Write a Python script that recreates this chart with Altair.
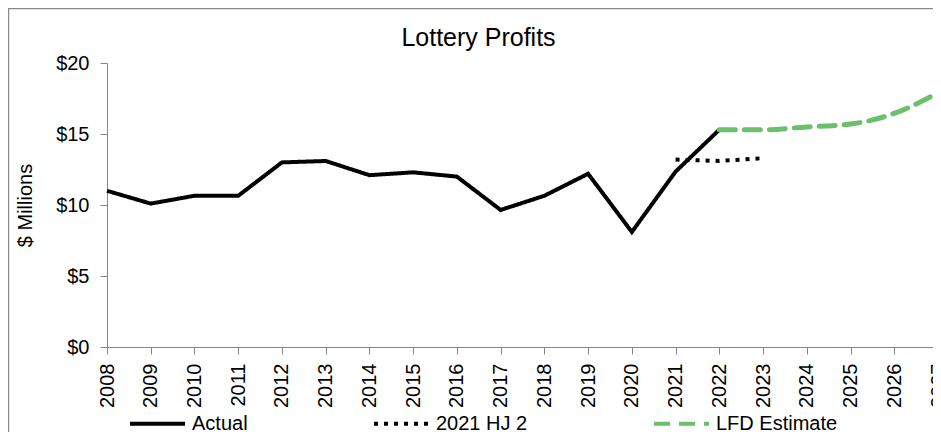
import altair as alt
import pandas as pd

all_years = list(range(2008, 2028))

actual_years = list(range(2008, 2023))
actual_values = [11.0, 10.1, 10.65, 10.65, 13.0, 13.1, 12.1, 12.3, 12.0, 9.65, 10.65, 12.2, 8.1, 12.35, 15.3]

hj_years = [2021, 2022, 2023]
hj_values = [13.2, 13.1, 13.3]

lfd_years = [2022, 2023, 2024, 2025, 2026, 2027]
lfd_values = [15.3, 15.3, 15.5, 15.7, 16.45, 17.9]

series_names = ["Actual", "2021 HJ 2", "LFD Estimate"]
series_colors = ["#000000", "#000000", "#6CBF6C"]
series_dash = [[1, 0], [4, 6], [16, 9]]

df_actual = pd.DataFrame({"year": actual_years, "value": actual_values, "series": "Actual"})
df_hj = pd.DataFrame({"year": hj_years, "value": hj_values, "series": "2021 HJ 2"})
df_lfd = pd.DataFrame({"year": lfd_years, "value": lfd_values, "series": "LFD Estimate"})

FONT = "Liberation Sans"
AXIS_GRAY = "#868686"

legend = alt.Legend(
    title=None,
    orient="none",
    legendX=21,
    legendY=331,
    direction="horizontal",
    symbolType="stroke",
    symbolSize=3025,
    symbolStrokeWidth=4,
    labelFontSize=20,
    labelFont=FONT,
    labelColor="#000000",
    columnPadding=118,
    labelOffset=5,
)

x_enc = alt.X(
    "year:O",
    scale=alt.Scale(type="point", padding=0, domain=all_years),
    axis=alt.Axis(
        title=None,
        labelAngle=270,
        labelFontSize=20,
        labelFont=FONT,
        labelColor="#000000",
        tickSize=7,
        labelPadding=9,
        domainColor=AXIS_GRAY,
        tickColor=AXIS_GRAY,
        grid=False,
    ),
)
y_enc = alt.Y(
    "value:Q",
    scale=alt.Scale(domain=[0, 20], nice=False),
    axis=alt.Axis(
        values=[0, 5, 10, 15, 20],
        labelExpr="'$' + datum.value",
        title="$ Millions",
        titleFontSize=20,
        titleFont=FONT,
        titleFontWeight="normal",
        titleColor="#000000",
        titlePadding=20,
        labelFontSize=20,
        labelFont=FONT,
        labelColor="#000000",
        tickSize=7,
        labelPadding=11,
        domainColor=AXIS_GRAY,
        tickColor=AXIS_GRAY,
        grid=False,
    ),
)
color_enc = alt.Color("series:N", scale=alt.Scale(domain=series_names, range=series_colors), legend=legend)
dash_enc = alt.StrokeDash("series:N", scale=alt.Scale(domain=series_names, range=series_dash), legend=legend)

line_actual = alt.Chart(df_actual).mark_line(strokeWidth=4, strokeJoin="miter").encode(
    x=x_enc, y=y_enc, color=color_enc, strokeDash=dash_enc)
line_hj = alt.Chart(df_hj).mark_line(strokeWidth=4, strokeCap="butt").encode(
    x=x_enc, y=y_enc, color=color_enc, strokeDash=dash_enc)
line_lfd = alt.Chart(df_lfd).mark_line(strokeWidth=5, strokeCap="round", interpolate="monotone").encode(
    x=x_enc, y=y_enc, color=color_enc, strokeDash=dash_enc)

border = alt.Chart(pd.DataFrame({"a": [0]})).mark_rect(
    fillOpacity=0, stroke="#8a8a8a", strokeWidth=1.5
).encode(x=alt.value(-98.5), x2=alt.value(1000), y=alt.value(-54.5), y2=alt.value(1000))

chart = alt.layer(border, line_actual, line_hj, line_lfd).properties(
    width=831,
    height=284,
    title=alt.TitleParams(
        "Lottery Profits", fontSize=25, font=FONT, fontWeight="normal",
        color="#000000", dx=-44, offset=-68.5, anchor="middle", baseline="bottom"),
    autosize=alt.AutoSizeParams(type="none"),
    padding={"left": 99, "top": 55, "right": -5, "bottom": 85},
).configure_view(strokeWidth=0)

chart.save("out.html", embed_options={"renderer": "svg", "actions": False})
